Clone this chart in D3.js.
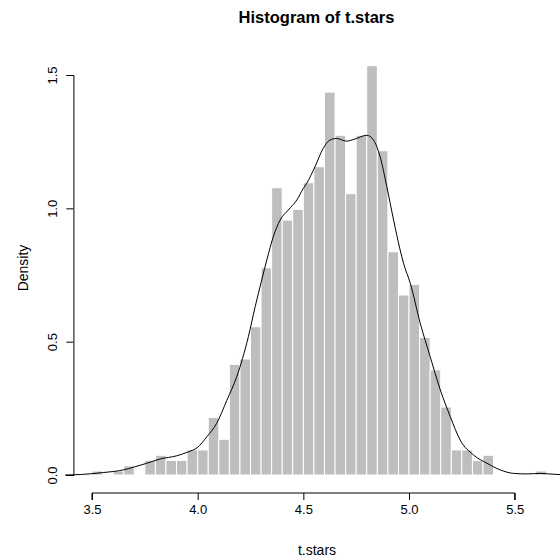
<!DOCTYPE html>
<html>
<head>
<meta charset="utf-8">
<script src="https://cdn.jsdelivr.net/npm/d3@7"></script>
<style>
  body { margin: 0; background: #fff; }
  text { font-family: "Liberation Sans", Arial, sans-serif; fill: #000; }
</style>
</head>
<body>
<div id="canvas"></div>
<script>
"use strict";

let svgWidth = 560;
let svgHeight = 557;

/* Data: histogram bins (left edge) and densities, width 0.05 */
let binStarts = [3.50, 3.55, 3.60, 3.65, 3.70, 3.75, 3.80, 3.85, 3.90, 3.95,
  4.00, 4.05, 4.10, 4.15, 4.20, 4.25, 4.30, 4.35, 4.40, 4.45,
  4.50, 4.55, 4.60, 4.65, 4.70, 4.75, 4.80, 4.85, 4.90, 4.95,
  5.00, 5.05, 5.10, 5.15, 5.20, 5.25, 5.30, 5.35, 5.40, 5.45,
  5.50, 5.55, 5.60];
let binDensity = [0.015, 0, 0.015, 0.034, 0, 0.055, 0.074, 0.055, 0.055, 0.094,
  0.094, 0.216, 0.134, 0.415, 0.435, 0.556, 0.777, 1.077, 0.956, 0.996,
  1.096, 1.156, 1.436, 1.274, 1.055, 1.274, 1.535, 1.216, 0.837, 0.675,
  0.715, 0.516, 0.394, 0.255, 0.094, 0.094, 0.054, 0.074, 0, 0,
  0, 0, 0.015];
let binWidth = 0.05;

/* Kernel density curve */
let densX = [3.372, 3.45, 3.50, 3.55, 3.60, 3.648, 3.70, 3.759, 3.822, 3.901,
  3.956, 3.997, 4.044, 4.09, 4.138, 4.185, 4.24, 4.272, 4.303, 4.327,
  4.358, 4.39, 4.429, 4.469, 4.50, 4.516, 4.555, 4.594, 4.626, 4.657,
  4.705, 4.744, 4.80, 4.832, 4.863, 4.895, 4.927, 4.958, 4.974, 5.006,
  5.053, 5.10, 5.148, 5.195, 5.242, 5.305, 5.369, 5.432, 5.495, 5.558,
  5.621, 5.70, 5.74];
let densY = [0.000, 0.002, 0.005, 0.009, 0.013, 0.019, 0.030, 0.044, 0.060, 0.072,
  0.087, 0.102, 0.144, 0.194, 0.280, 0.369, 0.519, 0.631, 0.731, 0.806,
  0.894, 0.956, 0.994, 1.031, 1.075, 1.094, 1.156, 1.225, 1.256, 1.262,
  1.252, 1.260, 1.274, 1.256, 1.194, 1.081, 0.956, 0.844, 0.794, 0.719,
  0.569, 0.444, 0.319, 0.219, 0.131, 0.075, 0.044, 0.019, 0.006, 0.004,
  0.006, 0.002, 0.001];

let xTicks = [3.5, 4.0, 4.5, 5.0, 5.5];
let yTicks = [0.0, 0.5, 1.0, 1.5];

let titleText = "Histogram of t.stars";
let xLabel = "t.stars";
let yLabel = "Density";

/* Scales */
let xScale = d3.scaleLinear().domain([3.5, 5.5]).range([92, 514.7]);
let yScale = d3.scaleLinear().domain([0, 1.5]).range([475, 75]);

let svg = d3.select("#canvas")
  .append("svg")
  .attr("width", svgWidth)
  .attr("height", svgHeight);

/* Bars */
let bins = binStarts.map((b, i) => ({ x0: b, d: binDensity[i] }))
  .filter(b => b.d > 0);

svg.selectAll("rect.bar")
  .data(bins)
  .enter()
  .append("rect")
  .attr("class", "bar")
  .attr("x", d => xScale(d.x0))
  .attr("y", d => yScale(d.d))
  .attr("width", d => xScale(d.x0 + binWidth) - xScale(d.x0))
  .attr("height", d => yScale(0) - yScale(d.d))
  .attr("fill", "#bebebe")
  .attr("stroke", "#ffffff")
  .attr("stroke-width", 1);

/* Density line */
let line = d3.line()
  .x((d, i) => xScale(densX[i]))
  .y((d, i) => yScale(densY[i]))
  .curve(d3.curveMonotoneX);

svg.append("path")
  .datum(densX)
  .attr("fill", "none")
  .attr("stroke", "#000")
  .attr("stroke-width", 1)
  .attr("d", line);

/* X axis */
let xAxis = svg.append("g")
  .attr("transform", "translate(0,493)")
  .call(d3.axisBottom(xScale).tickValues(xTicks).tickFormat(d3.format(".1f")).tickSize(7).tickPadding(5));
xAxis.select(".domain").attr("stroke", "#000").attr("d", `M${xScale(3.5)},7V0H${xScale(5.5)}V7`);
xAxis.selectAll("text").attr("font-size", "13px").attr("font-family", "Liberation Sans, Arial, sans-serif");

/* Y axis */
let yAxis = svg.append("g")
  .attr("transform", "translate(73.4,0)")
  .call(d3.axisLeft(yScale).tickValues(yTicks).tickFormat(d3.format(".1f")).tickSize(7).tickPadding(0));
yAxis.selectAll(".tick text")
  .attr("font-size", "13px")
  .attr("font-family", "Liberation Sans, Arial, sans-serif")
  .attr("text-anchor", "middle")
  .attr("x", 0)
  .attr("dy", 0)
  .attr("transform", "translate(-16.5,0) rotate(-90)");

/* Labels */
svg.append("text")
  .attr("x", 316.5)
  .attr("y", 22.5)
  .attr("text-anchor", "middle")
  .attr("font-size", "16.5px")
  .attr("font-weight", "bold")
  .text(titleText);

svg.append("text")
  .attr("x", 317)
  .attr("y", 555)
  .attr("text-anchor", "middle")
  .attr("font-size", "14px")
  .text(xLabel);

svg.append("text")
  .attr("transform", "translate(28,268) rotate(-90)")
  .attr("text-anchor", "middle")
  .attr("font-size", "14px")
  .text(yLabel);
</script>
</body>
</html>
